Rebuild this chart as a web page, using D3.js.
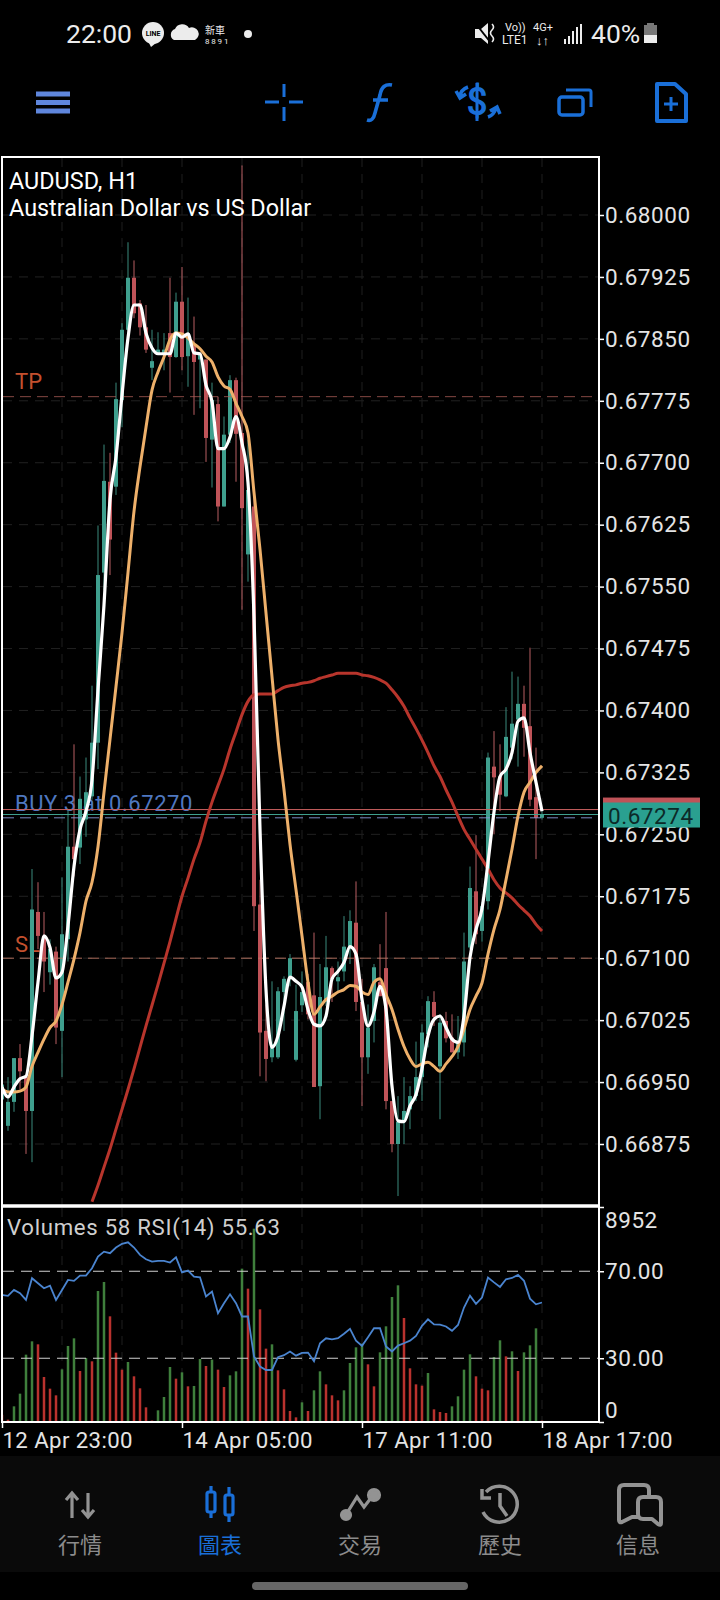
<!DOCTYPE html>
<html>
<head>
<meta charset="utf-8">
<script src="https://cdn.jsdelivr.net/npm/d3@7"></script>
<style>
  html, body { margin: 0; padding: 0; background: #000; }
  svg { display: block; }
  text { font-family: Roboto, sans-serif; }
</style>
</head>
<body>
<div id="chart"></div>
<script>
// prices are in points (1 point = 0.00001)
const opens = [66929,66897,66926,66979,66956,66915,67156,67127,67083,67108,67012,67123,67235,67234,67268,67296,67361,67567,67677,67671,67776,67861,67924,67893,67864,67815,67833,67833,67857,67828,67895,67829,67843,67825,67825,67728,67771,67647,67734,67800,67736,67589,67647,67165,67012,66980,66980,67059,67075,66977,67043,67071,67055,66945,67047,67088,67072,67084,67111,67143,67047,66980,67024,67071,67088,66927,66875,66902,66917,66933,66956,67008,67047,66969,67024,67004,66986,66998,67113,67181,67133,67169,67332,67320,67296,67355,67389,67408,67381,67295,67270];
const highs = [66954,66956,66979,66996,66956,67208,67192,67156,67123,67114,67198,67280,67359,67320,67343,67430,67624,67722,67712,67797,67869,67967,67945,67897,67891,67861,67858,67857,67924,67906,67937,67900,67877,67833,67825,67797,67780,67756,67806,67803,68060,67728,67661,67195,67044,67072,67065,67078,67105,67068,67084,67081,67131,67093,67127,67090,67096,67151,67158,67193,67075,67044,67093,67117,67156,66927,66933,66956,66945,66999,67020,67054,67060,67032,67035,67032,67030,67131,67211,67249,67168,67349,67375,67359,67404,67447,67441,67430,67476,67355,67278];
const lows = [66917,66891,66914,66941,66863,66853,67111,67059,67068,66996,66956,67096,67199,67214,67247,67292,67329,67546,67564,67661,67743,67855,67875,67854,67833,67800,67832,67812,67785,67827,67812,67792,67758,67766,67701,67670,67629,67647,67724,67677,67522,67556,67133,66957,66951,66974,66978,67012,67066,66975,67035,67026,66944,66905,67042,67047,67059,67072,67093,67036,66921,66960,66998,67054,66917,66865,66812,66875,66893,66927,66927,66992,67018,66905,66998,66986,66978,66981,67111,67117,67120,67159,67250,67278,67295,67341,67332,67344,67284,67220,67268];
const closes = [66947,66926,66979,66963,66915,67159,67127,67096,67111,67016,67129,67235,67220,67293,67301,67361,67564,67678,67607,67777,67861,67924,67881,67864,67837,67823,67837,67837,67828,67895,67828,67857,67822,67831,67730,67776,67647,67734,67800,67735,67645,67667,67163,67010,66978,66996,67060,67075,67100,67036,67059,67032,66944,67053,67089,67075,67077,67114,67145,67047,66980,67016,67089,67054,66927,66875,66902,66915,66933,66956,67010,67048,67029,67022,67003,66986,66998,67096,67185,67129,67163,67343,67319,67298,67368,67384,67408,67379,67292,67270,67274];

const fastMa = [66944,66932,66944,66954,66957,67006,67071,67127,67113,67076,67083,67139,67211,67256,67278,67316,67425,67528,67655,67707,67782,67851,67891,67891,67857,67839,67832,67832,67832,67857,67852,67856,67833,67832,67794,67774,67717,67717,67731,67756,67724,67676,67514,67256,67062,66992,67006,67042,67077,67072,67065,67038,67020,67018,67030,67075,67084,67095,67114,67105,67050,67018,67035,67066,67038,66945,66903,66902,66921,66935,66966,67006,67026,67030,67016,67002,66998,67030,67101,67135,67160,67216,67277,67320,67329,67349,67387,67391,67349,67313,67278];
const slowMa = [66941,66938,66938,66939,66944,66969,66986,67002,67016,67024,67044,67071,67099,67131,67169,67192,67235,67301,67365,67429,67494,67567,67641,67695,67743,67788,67810,67828,67849,67857,67856,67851,67844,67838,67829,67822,67804,67793,67789,67772,67756,67736,67664,67595,67518,67441,67365,67304,67238,67183,67127,67071,67032,67041,67050,67054,67059,67062,67067,67066,67059,67056,67071,67075,67056,67038,67014,66993,66978,66969,66972,66974,66969,66963,66972,66981,66993,67014,67038,67054,67070,67105,67135,67159,67195,67232,67272,67301,67313,67325,67333];
const trendMa = [null,null,null,null,null,null,null,null,null,null,null,null,null,null,null,66805,66825,66847,66869,66893,66917,66941,66966,66992,67018,67043,67068,67094,67120,67148,67175,67197,67220,67240,67266,67289,67309,67329,67353,67374,67395,67411,67419,67420,67420,67420,67424,67428,67430,67431,67433,67434,67436,67439,67441,67443,67445,67445,67445,67445,67443,67442,67440,67437,67433,67425,67416,67405,67391,67378,67364,67349,67333,67320,67304,67289,67272,67256,67244,67232,67220,67208,67195,67185,67179,67173,67165,67158,67151,67141,67133];

const volumes = [300,97,652,1180,2804,3359,3234,1874,1388,1110,2193,3165,3484,2124,2665,2526,5455,5830,4400,2887,2179,2498,1902,1402,611,60,486,1041,2290,1804,2068,1485,1500,2623,2332,2596,2179,1457,1943,2110,6385,5552,8050,4691,3054,3234,2151,1360,458,194,819,458,1319,2110,1568,1110,902,1319,2457,3109,3262,2401,1485,2901,3984,5205,5691,4331,2235,1568,1513,2040,527,416,375,652,1069,2179,2818,1902,1388,1319,2707,3401,2734,2943,2124,2901,3192,3900,58];
const rsi = [59.1,58.7,61.4,59.9,56.8,66.8,64.5,62.2,63.4,56.8,61.4,66.0,65.6,68.0,68.0,71.4,76.7,79.0,78.3,80.9,82.6,83.3,80.9,77.5,75.5,74.4,74.8,74.8,74.0,76.4,69.5,70.3,67.5,67.2,58.4,60.7,50.7,55.3,59.4,55.3,49.2,49.2,30.8,26.2,24.6,24.6,30.5,31.4,33.1,31.2,32.5,32.6,28.6,36.9,39.2,38.7,39.2,41.3,43.5,38.1,35.7,39.7,43.8,43.8,35.4,33.1,35.8,36.9,38.1,40.3,44.9,47.9,45.6,45.5,44.6,42.6,45.3,53.3,58.8,55.0,57.9,67.1,64.9,62.8,66.3,66.9,68.3,65.6,57.4,54.8,55.63];

const priceTicks = [68000,67925,67850,67775,67700,67625,67550,67475,67400,67325,67250,67175,67100,67025,66950,66875];
const timeTicks = [0,30,60,90];
const timeLabels = ["12 Apr 23:00","14 Apr 05:00","17 Apr 11:00","18 Apr 17:00"];
const gridBars = [10,20,30,40,50,60,70,80,90];
const tpLevel = 67780, slLevel = 67100, buyLevel = 67270, bid = 67274, ask = 67280;
const volumeMax = 8952;
const rsiLevels = [70,30];

const navLabels = ["行情","圖表","交易","歷史","信息"];
const navCenters = [80,220,360,500,638];

const W = 720, H = 1600;
const plot = { left: 3, right: 598, top: 158, mid: 1205, low: 1208, bottom: 1422 };
const teal = "#3f9f8e", red = "#bf5358";

const svg = d3.select("#chart").append("svg").attr("width", W).attr("height", H);
const defs = svg.append("defs");
defs.append("clipPath").attr("id", "clipMain").append("rect")
    .attr("x", plot.left).attr("y", plot.top).attr("width", plot.right - plot.left).attr("height", plot.mid - plot.top);
defs.append("clipPath").attr("id", "clipSub").append("rect")
    .attr("x", plot.left).attr("y", plot.low).attr("width", plot.right - plot.left).attr("height", plot.bottom - plot.low);

const x = d3.scaleLinear().domain([0, 90]).range([2, 542]);
const y = d3.scaleLinear().domain([66875, 68000]).range([1144, 215]);
const yVol = d3.scaleLinear().domain([0, volumeMax]).range([1422, 1207]);
const yRsi = d3.scaleLinear().domain([0, 100]).range([1423.5, 1206]);

const main = svg.append("g").attr("clip-path", "url(#clipMain)");
const sub = svg.append("g").attr("clip-path", "url(#clipSub)");

// grid
main.append("g").selectAll("line").data(priceTicks).enter().append("line")
    .attr("x1", plot.left).attr("x2", plot.right)
    .attr("y1", d => y(d)).attr("y2", d => y(d))
    .attr("stroke", "#212121").attr("stroke-dasharray", "9 7");
[[main, plot.top, plot.mid], [sub, plot.low, plot.bottom]].forEach(([g, y1, y2]) => {
    g.append("g").selectAll("line").data(gridBars).enter().append("line")
        .attr("x1", d => x(d)).attr("x2", d => x(d))
        .attr("y1", y1).attr("y2", y2)
        .attr("stroke", "#1e1e1e").attr("stroke-dasharray", "9 7");
});

// order labels sit under the candles
const labels = main.append("g").attr("font-size", 22);
labels.append("text").attr("x", 15).attr("y", y(tpLevel) - 8).attr("fill", "#c4502e").text("TP");
labels.append("text").attr("x", 15).attr("y", y(slLevel) - 6).attr("fill", "#c4502e").text("SL");
labels.append("text").attr("x", 15).attr("y", y(buyLevel) - 7).attr("fill", "#4f78c0")
    .attr("letter-spacing", 0.55).text("BUY 3 at 0.67270");

// candles
const candles = main.append("g").selectAll("g").data(opens).enter().append("g");
candles.append("rect")
    .attr("x", (d, i) => x(i) - 0.5).attr("width", 1)
    .attr("y", (d, i) => y(highs[i]))
    .attr("height", (d, i) => y(lows[i]) - y(highs[i]))
    .attr("fill", (d, i) => closes[i] >= d ? "#3a8a7c" : "#b85f62");
candles.append("rect")
    .attr("x", (d, i) => x(i) - 2).attr("width", 4)
    .attr("y", (d, i) => y(Math.max(d, closes[i])))
    .attr("height", (d, i) => Math.max(1, Math.abs(y(d) - y(closes[i]))))
    .attr("fill", (d, i) => closes[i] >= d ? teal : red);

// order and price lines
const levels = main.append("g");
const level = (v, color, dash, op) => levels.append("line")
    .attr("x1", plot.left).attr("x2", plot.right)
    .attr("y1", y(v)).attr("y2", y(v))
    .attr("stroke", color).attr("stroke-dasharray", dash).attr("opacity", op);
level(tpLevel, "#b0605a", "11 6", 0.75);
level(slLevel, "#c07a68", "11 6", 0.9);
level(ask, "#c8605f", null, 1);
level(bid, "#3f9f8e", null, 1);
level(buyLevel, "#8a9ad8", "11 6", 0.9);

// moving averages
const maLine = d3.line().defined(d => d !== null).x((d, i) => x(i)).y(d => y(d)).curve(d3.curveMonotoneX);
const drawMa = (data, color, w) => main.append("path").datum(data).attr("d", maLine)
    .attr("fill", "none").attr("stroke", color).attr("stroke-width", w).attr("stroke-linejoin", "round");
drawMa(trendMa, "#b8352c", 3);
drawMa(slowMa, "#eeb06a", 3);
drawMa(fastMa, "#ffffff", 3.2);

// volumes, coloured by rising or falling volume
sub.append("g").selectAll("rect").data(volumes).enter().append("rect")
    .attr("x", (d, i) => x(i) - 1.25).attr("width", 2.5)
    .attr("y", d => yVol(d)).attr("height", d => yVol(0) - yVol(d))
    .attr("fill", (d, i) => i > 0 && d > volumes[i - 1] ? "#3f7f3c" : "#b9322e");

// rsi
sub.append("g").selectAll("line").data(rsiLevels).enter().append("line")
    .attr("x1", plot.left).attr("x2", plot.right)
    .attr("y1", d => yRsi(d)).attr("y2", d => yRsi(d))
    .attr("stroke", "#d0d0d0").attr("stroke-dasharray", "11 7");
sub.append("path").datum(rsi)
    .attr("d", d3.line().x((d, i) => x(i)).y(d => yRsi(d)))
    .attr("fill", "none").attr("stroke", "#4a84cf").attr("stroke-width", 1.8);

// frame
const frame = svg.append("g").attr("fill", "none").attr("stroke", "#fff");
frame.append("rect").attr("x", 2).attr("y", 157).attr("width", 597).attr("height", 1265).attr("stroke-width", 2);
frame.append("line").attr("x1", 2).attr("x2", 599).attr("y1", 1206).attr("y2", 1206).attr("stroke-width", 3.5);

// axes
const styleAxis = g => {
    g.select(".domain").remove();
    g.selectAll("line").attr("stroke", "#fff").attr("stroke-width", 1.5);
    g.selectAll("text").attr("fill", "#e4e4e4").style("font-family", "Roboto, sans-serif")
        .attr("font-size", 22.5).attr("letter-spacing", 0.55);
};
svg.append("g").attr("transform", "translate(599,0)")
    .call(d3.axisRight(y).tickValues(priceTicks).tickSize(5).tickPadding(1).tickFormat(d => (d / 1e5).toFixed(5)))
    .call(styleAxis);
svg.append("g").attr("transform", "translate(599,0)")
    .call(d3.axisRight(yRsi).tickValues(rsiLevels).tickSize(5).tickPadding(1).tickFormat(d => d.toFixed(2)))
    .call(styleAxis);
const volAxis = svg.append("g").attr("transform", "translate(599,0)")
    .call(d3.axisRight(yVol).tickValues([volumeMax, 0]).tickSize(5).tickPadding(1).tickFormat(d => String(d)))
    .call(styleAxis);
volAxis.selectAll("text").attr("dy", d => d === 0 ? "-0.2em" : "0.92em");
const timeAxis = svg.append("g").attr("transform", "translate(0,1422)")
    .call(d3.axisBottom(x).tickValues(timeTicks).tickSize(6).tickFormat((d, i) => timeLabels[i]))
    .call(styleAxis);
timeAxis.selectAll("text").attr("text-anchor", "start").attr("x", 0).attr("y", 10).attr("dy", "0.71em")
    .attr("font-size", 22.2).attr("letter-spacing", 0.4);

// current price tags
const tag = svg.append("g");
tag.append("rect").attr("x", 603).attr("y", y(ask) - 12).attr("width", 97).attr("height", 24).attr("fill", red);
tag.append("rect").attr("x", 603).attr("y", y(bid) - 12).attr("width", 97).attr("height", 25).attr("fill", "#2aa090");
tag.append("text").attr("x", 608).attr("y", y(bid) + 9).attr("fill", "#0c2a28")
    .attr("font-size", 22.5).attr("letter-spacing", 0.55).text((bid / 1e5).toFixed(5));

// titles
svg.append("text").attr("x", 9).attr("y", 189).attr("fill", "#fff").attr("font-size", 23.4).text("AUDUSD, H1");
svg.append("text").attr("x", 9).attr("y", 216).attr("fill", "#fff").attr("font-size", 23.4).text("Australian Dollar vs US Dollar");
svg.append("text").attr("x", 7).attr("y", 1235).attr("fill", "#cfcfcf").attr("font-size", 22.2)
    .attr("letter-spacing", 0.7).text("Volumes " + volumes[90] + " RSI(14) " + rsi[90].toFixed(2));

// status bar
const status = svg.append("g").attr("fill", "#ececec");
status.append("text").attr("x", 66).attr("y", 43).attr("font-size", 26.5).text("22:00");
status.append("circle").attr("cx", 153).attr("cy", 33).attr("r", 11);
status.append("path").attr("d", "M149 43 L156 43 L151 47 Z");
status.append("text").attr("x", 153).attr("y", 36).attr("text-anchor", "middle").attr("font-size", 7)
    .attr("font-weight", 700).attr("fill", "#000").text("LINE");
status.append("path").attr("d", "M174 40 a6 6 0 0 1 1 -11 a8 8 0 0 1 14 -1 a6 6 0 0 1 6 12 Z");
status.append("text").attr("x", 205).attr("y", 34).attr("font-size", 10).style("font-family", "'Noto Sans CJK TC'").text("新車");
status.append("text").attr("x", 205).attr("y", 44).attr("font-size", 8).attr("letter-spacing", 1.8).text("8891");
status.append("circle").attr("cx", 248).attr("cy", 34).attr("r", 4);
status.append("path").attr("d", "M475 29 L481 29 L488 23 L488 44 L481 38 L475 38 Z");
status.append("path").attr("d", "M476 24 L491 43").attr("stroke", "#000").attr("stroke-width", 2);
status.append("path").attr("d", "M492 24 q3 3 0 6 q-3 3 0 6 q3 3 0 6").attr("fill", "none").attr("stroke", "#ececec").attr("stroke-width", 1.6);
status.append("text").attr("x", 505).attr("y", 31).attr("font-size", 11).text("Vo))");
status.append("text").attr("x", 502).attr("y", 44).attr("font-size", 12).text("LTE1");
status.append("text").attr("x", 533).attr("y", 31).attr("font-size", 11).text("4G+");
status.append("text").attr("x", 536).attr("y", 45).attr("font-size", 13).text("↓↑");
[[564, 39, 5], [568, 36, 8], [572, 31, 13], [576, 27, 17], [580, 24, 20]].forEach(b => {
    status.append("rect").attr("x", b[0]).attr("y", b[1]).attr("width", 2).attr("height", b[2]);
});
status.append("text").attr("x", 591).attr("y", 43).attr("font-size", 26.5).text("40%");
status.append("path").attr("d", "M647 23 h7 v2 h3 v10 h-13 v-10 h3 Z").attr("fill", "#777");
status.append("rect").attr("x", 644).attr("y", 35).attr("width", 13).attr("height", 8).attr("fill", "#ececec");

// toolbar
const blue = "#1a6fd8";
const bar = svg.append("g").attr("fill", "none").attr("stroke", blue);
[94, 102.5, 111].forEach(v => {
    bar.append("line").attr("x1", 36).attr("x2", 70).attr("y1", v).attr("y2", v).attr("stroke", "#5f86dc").attr("stroke-width", 5);
});
bar.append("path").attr("stroke-width", 3).attr("d", "M265 102 H279 M289 102 H303 M284 84 V97 M284 107 V121");
bar.append("path").attr("stroke-width", 3.6).attr("d", "M392 85 Q382 83 380 95 L375 113 Q373 122 367 120 M373 100 H388");
bar.append("text").attr("x", 477).attr("y", 115).attr("text-anchor", "middle").attr("fill", blue).attr("stroke", "none")
    .attr("font-size", 38).attr("font-weight", 500).text("$");
bar.append("path").attr("stroke-width", 3).attr("d", "M477 83 V121");
bar.append("path").attr("stroke-width", 3.5).attr("d", "M468 87 Q460 90 460 97 M456 91 L460 98 L466 94 M488 117 Q494 115 496 108 M490 111 L497 107 L500 114");
bar.append("rect").attr("x", 559).attr("y", 97).attr("width", 24).attr("height", 18).attr("rx", 3).attr("stroke-width", 3.5);
bar.append("path").attr("stroke-width", 3).attr("d", "M566 90 H589 Q591 90 591 92 V107");
bar.append("path").attr("stroke-width", 4).attr("stroke-linejoin", "round").attr("d", "M657 84 H675 L686 94 V121 H657 Z");
bar.append("path").attr("stroke-width", 3).attr("d", "M671 97 V111 M664 104 H678");

// bottom navigation
const nav = svg.append("g");
nav.append("rect").attr("x", 0).attr("y", 1456).attr("width", W).attr("height", 116).attr("fill", "#0a0a0a");
navLabels.forEach((t, i) => {
    nav.append("text").attr("x", navCenters[i]).attr("y", 1553).attr("text-anchor", "middle")
        .attr("font-size", 22).attr("fill", i === 1 ? blue : "#8c8c8c")
        .style("font-family", "'Noto Sans CJK TC'").text(t);
});
const grey = "#939393";
const icons = nav.append("g").attr("fill", "none").attr("stroke", grey).attr("stroke-width", 3.2);
icons.append("path").attr("d", "M72 1518 V1493 M66 1500 L72 1493 L78 1500 M88 1493 V1517 M82 1510 L88 1517 L94 1510");
const candleIcon = icons.append("g").attr("stroke", blue);
candleIcon.append("path").attr("d", "M211 1486 V1518 M229 1487 V1522");
candleIcon.append("rect").attr("x", 207).attr("y", 1492).attr("width", 8).attr("height", 20).attr("rx", 2).attr("fill", "#0a0a0a");
candleIcon.append("rect").attr("x", 225).attr("y", 1495).attr("width", 8).attr("height", 20).attr("rx", 2).attr("fill", "#0a0a0a");
icons.append("path").attr("d", "M347 1513 L357 1497 L364 1507 L374 1494");
[[346, 1515, 4.5], [374, 1495, 5.5]].forEach(c => {
    icons.append("circle").attr("cx", c[0]).attr("cy", c[1]).attr("r", c[2]).attr("fill", grey);
});
icons.append("path").attr("stroke-width", 3.5).attr("d", "M486 1492 A18 18 0 1 1 483 1512 M482 1489 V1498 H491 M500 1493 V1506 L507 1516");
icons.append("path").attr("stroke-width", 4).attr("stroke-linejoin", "round")
    .attr("d", "M640 1517 H632 L622 1522 Q619 1523 619 1520 V1490 Q619 1485 624 1485 H644 Q649 1485 649 1490 V1497");
icons.append("path").attr("stroke-width", 4).attr("stroke-linejoin", "round")
    .attr("d", "M643 1497 H656 Q661 1497 661 1502 V1523 Q661 1526 658 1524 L652 1519 H643 Q638 1519 638 1514 V1502 Q638 1497 643 1497 Z");
svg.append("rect").attr("x", 252).attr("y", 1582).attr("width", 216).attr("height", 8).attr("rx", 4).attr("fill", "#666");
</script>
</body>
</html>
